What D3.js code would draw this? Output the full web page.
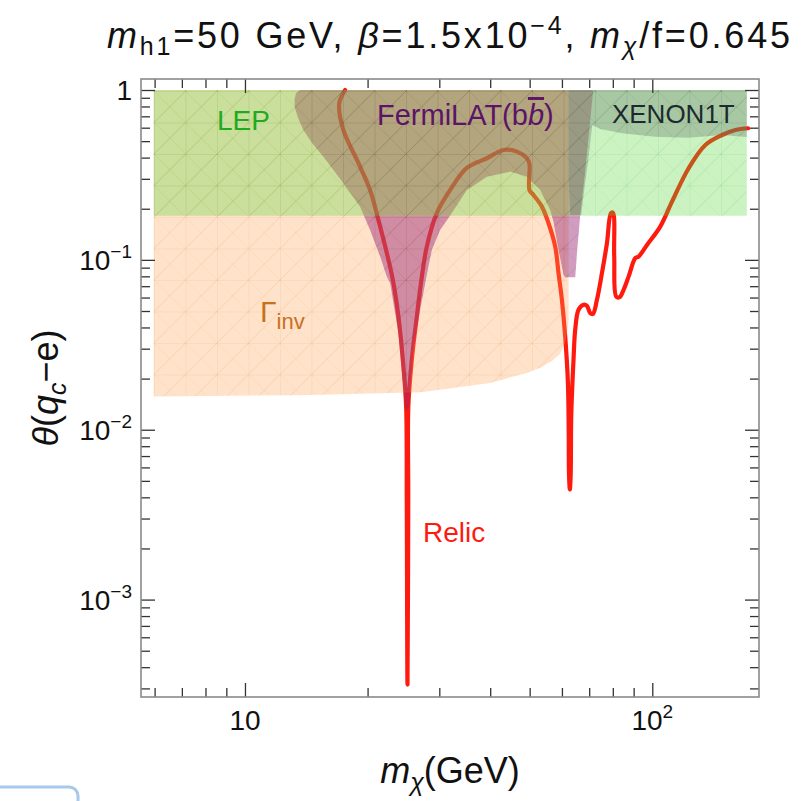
<!DOCTYPE html>
<html><head><meta charset="utf-8">
<script src="https://cdn.jsdelivr.net/npm/d3@7"></script>
<style>
body{margin:0;background:#fff}
svg{display:block}
text{font-family:"Liberation Sans",Arial,sans-serif}
</style>
</head><body>
<svg id="c" width="808" height="801"></svg>
<script>
// ---------- data ----------
const xDomain = [5.556, 182.8];
const yDomain = [2.67e-4, 1.161];
const xMajorTicks = [10, 100];
const xMajorLabels = ["10", "10|2"];
const xMinorTicks = [6,7,8,9,20,30,40,50,60,70,80,90];
const yMajorTicks = [1e-3, 1e-2, 1e-1, 1];
const yMajorLabels = ["10|−3", "10|−2", "10|−1", "1"];
const yMinorTicks = [3e-4,4e-4,5e-4,6e-4,7e-4,8e-4,9e-4,
  2e-3,3e-3,4e-3,5e-3,6e-3,7e-3,8e-3,9e-3,
  2e-2,3e-2,4e-2,5e-2,6e-2,7e-2,8e-2,9e-2,
  0.2,0.3,0.4,0.5,0.6,0.7,0.8,0.9];

// Relic curve (m_chi [GeV], theta)
const relicMass = [17.61,17.04,17.44,18.99,20.28,21.26,22.29,23.07,23.81,24.49,24.87,24.96,25.06,
  25.17,25.18,25.68,26.42,27.18,27.95,29.58,31.90,35.05,39.26,43.12,46.52,49.21,49.94,49.94,
  51.09,53.58,55.62,57.77,58.86,59.99,61.12,62.07,62.35,62.45,62.75,63.05,63.24,64.06,64.68,65.91,67.80,
  69.12,70.42,71.50,73.13,75.23,77.39,79.15,80.05,80.64,81.56,83.11,85.01,87.46,90.82,92.53,97.05,
  104.6,112.3,122.8,134.98,148.4,159.9,171.8];
const relicTheta = [1.0,0.835,0.582,0.372,0.258,0.172,0.110,0.0763,0.0464,0.0236,0.01371,0.00388,3.16e-4,
  0.00388,0.01371,0.0258,0.0464,0.0797,0.1197,0.1883,0.258,0.3476,0.3965,0.4436,0.4336,0.3965,0.367,0.258,
  0.2411,0.2058,0.1644,0.1197,0.0835,0.0582,0.0354,0.01883,0.00957,0.0055,0.00445,0.0055,0.01198,0.0258,0.0388,0.0508,0.0544,
  0.0536,0.0486,0.0481,0.0582,0.0835,0.1254,0.1883,0.1898,0.1046,0.0608,0.0603,0.0666,0.0797,0.1023,0.1046,0.1225,
  0.157,0.2254,0.3463,0.4747,0.5435,0.5817,0.5953];

// Gamma_inv excluded region
const gammaInvMass = [5.97,62.30,62.30,61.84,60.95,59.42,56.80,53.07,49.21,39.99,30.14,26.92,13.65,5.97];
const gammaInvTheta = [1.0,1.0,0.0444,0.0377,0.0321,0.028,0.0255,0.0232,0.0216,0.01883,0.01719,0.01662,0.01596,0.0157];

// LEP excluded band
const lepMass = [5.97,170.6,170.6,5.97];
const lepTheta = [1.0,1.0,0.182,0.182];

// FermiLAT excluded region
const fermiMass = [13.65,13.35,13.23,13.27,13.50,13.91,14.61,15.58,17.44,19.17,20.28,21.47,22.29,22.72,23.81,
  24.41,24.72,24.97,25.29,25.58,25.92,26.92,28.21,28.76,30.14,31.90,35.05,39.26,44.78,49.21,53.07,56.16,57.21,
  58.86,60.54,61.12,64.68,65.42,66.54,68.06,69.62,71.22,71.61];
const fermiTheta = [1.0,0.960,0.873,0.780,0.684,0.582,0.488,0.405,0.2826,0.2058,0.150,0.1046,0.0797,0.0729,0.0370,
  0.01883,0.01371,0.01276,0.01371,0.0197,0.0296,0.0508,0.0913,0.1145,0.150,0.1822,0.258,0.309,0.3308,0.309,0.258,0.1968,0.1674,
  0.1145,0.0816,0.0789,0.0789,0.1145,0.1839,0.2955,0.508,0.873,1.0];

// XENON1T excluded region
const xenonMass = [62.30,170.6,170.6,148.4,122.6,101.7,84.23,74.52,71.22,69.62,68.06,66.92,62.88,62.30];
const xenonTheta = [1.0,1.0,0.529,0.5435,0.524,0.531,0.556,0.5897,0.6225,0.3875,0.258,0.1839,0.1839,0.296];

// label anchor points (data coords)
const labelLEP = [8.54, 0.581];
const labelFermi = [21.09, 0.622];
const labelXenon = [79.6, 0.639];
const labelGamma = [10.89, 0.0430];
const labelRelic = [27.35, 0.00218];

// ---------- drawing ----------
const svg = d3.select("#c");
const x = d3.scaleLog().domain(xDomain).range([141, 759]);
const y = d3.scaleLog().domain(yDomain).range([697, 79]);
const zip = (a, b) => a.map((v, i) => [v, b[i]]);
const poly = d3.line().x(d => x(d[0])).y(d => y(d[1])).curve(d3.curveLinearClosed);
const curve = d3.line().x(d => x(d[0])).y(d => y(d[1])).curve(d3.curveCatmullRom.alpha(0.5));

const defs = svg.append("defs");
defs.append("clipPath").attr("id", "plotclip").append("rect")
  .attr("x", x(xDomain[0])).attr("y", y(yDomain[1]))
  .attr("width", x(xDomain[1]) - x(xDomain[0])).attr("height", y(yDomain[0]) - y(yDomain[1]));
defs.append("clipPath").attr("id", "aboveLEP").append("rect")
  .attr("x", 0).attr("y", 0).attr("width", 808).attr("height", y(0.182));
defs.append("clipPath").attr("id", "belowLEP").append("rect")
  .attr("x", 0).attr("y", y(0.182)).attr("width", 808).attr("height", 801);

function mesh(id, color, op) {
  const s = 31.5;
  const p = defs.append("pattern").attr("id", id).attr("patternUnits", "userSpaceOnUse")
    .attr("x", 154).attr("y", 91).attr("width", s).attr("height", s);
  const g = p.append("g").attr("stroke", color).attr("stroke-width", 0.7).attr("fill", "none").attr("stroke-opacity", op);
  g.append("path").attr("d", `M0,0V${s}M0,0H${s}M0,${s}L${s},0`);
  g.append("path").attr("d", `M0,0L${s},${s}`).attr("stroke-opacity", op * 0.45);
}
mesh("meshO", "#e07820", 0.25);
mesh("meshG", "#30a030", 0.22);
mesh("meshP", "#502040", 0.2);
mesh("meshX", "#304030", 0.2);

const plot = svg.append("g").attr("clip-path", "url(#plotclip)");

// relic curve below the shaded regions
plot.append("path").attr("d", curve(zip(relicMass, relicTheta)))
  .attr("fill", "none").attr("stroke", "#ff1a10").attr("stroke-width", 4.2)
  .attr("stroke-linejoin", "round").attr("stroke-linecap", "round");

// Gamma_inv
const gPath = poly(zip(gammaInvMass, gammaInvTheta));
plot.append("path").attr("d", gPath).attr("fill", "rgb(255,160,80)").attr("fill-opacity", 0.3);
plot.append("path").attr("d", gPath).attr("fill", "url(#meshO)");
// LEP
const lPath = poly(zip(lepMass, lepTheta));
plot.append("path").attr("d", lPath).attr("fill", "rgb(80,215,50)").attr("fill-opacity", 0.3);
plot.append("path").attr("d", lPath).attr("fill", "url(#meshG)");
// FermiLAT
const fPath = poly(zip(fermiMass, fermiTheta));
plot.append("path").attr("d", fPath).attr("clip-path", "url(#aboveLEP)")
  .attr("fill", "rgb(150,95,90)").attr("fill-opacity", 0.45);
plot.append("path").attr("d", fPath).attr("clip-path", "url(#belowLEP)")
  .attr("fill", "rgb(150,35,115)").attr("fill-opacity", 0.45);
plot.append("path").attr("d", fPath).attr("fill", "url(#meshP)");
// XENON1T
const xPath = poly(zip(xenonMass, xenonTheta));
plot.append("path").attr("d", xPath).attr("fill", "rgb(95,110,100)").attr("fill-opacity", 0.32);
plot.append("path").attr("d", xPath).attr("fill", "url(#meshX)");

// region labels
const lab = (pt, txt, color, size) => svg.append("text").attr("x", x(pt[0])).attr("y", y(pt[1]))
  .attr("fill", color).attr("font-size", size).text(txt);
lab(labelLEP, "LEP", "#1faa1f", 28);
const ft = svg.append("text").attr("x", x(labelFermi[0])).attr("y", y(labelFermi[1]))
  .attr("fill", "#5b1466").attr("font-size", 29);
ft.append("tspan").text("FermiLAT(b");
ft.append("tspan").attr("font-style", "italic").style("text-decoration", "overline").text("b");
ft.append("tspan").text(")");
lab(labelXenon, "XENON1T", "#1c2a30", 26);
const gt = svg.append("text").attr("x", x(labelGamma[0])).attr("y", y(labelGamma[1]))
  .attr("fill", "#c8701e").attr("font-size", 30);
gt.append("tspan").text("Γ");
gt.append("tspan").attr("font-size", 22).attr("dy", 7).text("inv");
lab(labelRelic, "Relic", "#ff1a10", 28);

// axes ticks (inward, all four sides)
const tickStyle = g => { g.select(".domain").remove(); g.selectAll("line").attr("stroke", "#333").attr("stroke-width", 1.3); g.selectAll("text").remove(); };
const B = y(yDomain[0]), T = y(yDomain[1]), L = x(xDomain[0]), R = x(xDomain[1]);
svg.append("g").attr("transform", `translate(0,${B})`).call(d3.axisBottom(x).tickValues(xMinorTicks).tickSize(-9)).call(tickStyle);
svg.append("g").attr("transform", `translate(0,${B})`).call(d3.axisBottom(x).tickValues(xMajorTicks).tickSize(-14)).call(tickStyle);
svg.append("g").attr("transform", `translate(0,${T})`).call(d3.axisTop(x).tickValues(xMinorTicks).tickSize(-9)).call(tickStyle);
svg.append("g").attr("transform", `translate(0,${T})`).call(d3.axisTop(x).tickValues(xMajorTicks).tickSize(-14)).call(tickStyle);
svg.append("g").attr("transform", `translate(${L},0)`).call(d3.axisLeft(y).tickValues(yMinorTicks).tickSize(-9)).call(tickStyle);
svg.append("g").attr("transform", `translate(${L},0)`).call(d3.axisLeft(y).tickValues(yMajorTicks).tickSize(-14)).call(tickStyle);
svg.append("g").attr("transform", `translate(${R},0)`).call(d3.axisRight(y).tickValues(yMinorTicks).tickSize(-9)).call(tickStyle);
svg.append("g").attr("transform", `translate(${R},0)`).call(d3.axisRight(y).tickValues(yMajorTicks).tickSize(-14)).call(tickStyle);

// frame
svg.append("rect").attr("x", L).attr("y", T).attr("width", R - L).attr("height", B - T)
  .attr("fill", "none").attr("stroke", "#8a8a8a").attr("stroke-width", 1.6);

// tick labels
function tickLabel(px, py, spec, anchor) {
  const [base, sup] = spec.split("|");
  const t = svg.append("text").attr("x", px).attr("y", py).attr("font-size", 28).attr("fill", "#111").attr("text-anchor", anchor);
  t.append("tspan").text(base);
  if (sup) t.append("tspan").attr("font-size", 19).attr("dy", -12).text(sup);
  return t;
}
xMajorTicks.forEach((v, i) => tickLabel(x(v), B + 33, xMajorLabels[i], "middle"));
yMajorTicks.forEach((v, i) => tickLabel(L - 9, y(v) + 10, yMajorLabels[i], "end"));

// axis titles
const xt = svg.append("text").attr("x", (L + R) / 2).attr("y", 783).attr("text-anchor", "middle").attr("font-size", 36).attr("fill", "#111");
xt.append("tspan").attr("font-style", "italic").text("m");
xt.append("tspan").attr("font-style", "italic").attr("font-size", 25).attr("dy", 8).text("χ");
xt.append("tspan").attr("dy", -8).text("(GeV)");
const yt = svg.append("text").attr("transform", `translate(58,${(T + B) / 2}) rotate(-90)`).attr("text-anchor", "middle").attr("font-size", 36).attr("fill", "#111");
yt.append("tspan").attr("font-style", "italic").text("θ");
yt.append("tspan").text("(");
yt.append("tspan").attr("font-style", "italic").text("q");
yt.append("tspan").attr("font-style", "italic").attr("font-size", 25).attr("dy", 8).text("c");
yt.append("tspan").attr("dy", -8).text("−e)");

// title
const tt = svg.append("text").attr("x", 107).attr("y", 48).attr("font-size", 36).attr("fill", "#111")
  .attr("textLength", 683).attr("lengthAdjust", "spacing");
tt.append("tspan").attr("font-style", "italic").text("m");
tt.append("tspan").attr("font-size", 25).attr("dy", 7).text("h1");
tt.append("tspan").attr("dy", -7).text("=50 GeV, ");
tt.append("tspan").attr("font-style", "italic").text("β");
tt.append("tspan").text("=1.5x10");
tt.append("tspan").attr("font-size", 25).attr("dy", -14).text("−4");
tt.append("tspan").attr("dy", 14).text(", ");
tt.append("tspan").attr("font-style", "italic").text("m");
tt.append("tspan").attr("font-style", "italic").attr("font-size", 25).attr("dy", 7).text("χ");
tt.append("tspan").attr("dy", -7).text("/f=0.645");

// small UI box at bottom-left corner
svg.append("rect").attr("x", -12).attr("y", 787).attr("width", 90).attr("height", 40).attr("rx", 9)
  .attr("fill", "#fff").attr("stroke", "#a8c8ec").attr("stroke-width", 3);
</script>
</body></html>
